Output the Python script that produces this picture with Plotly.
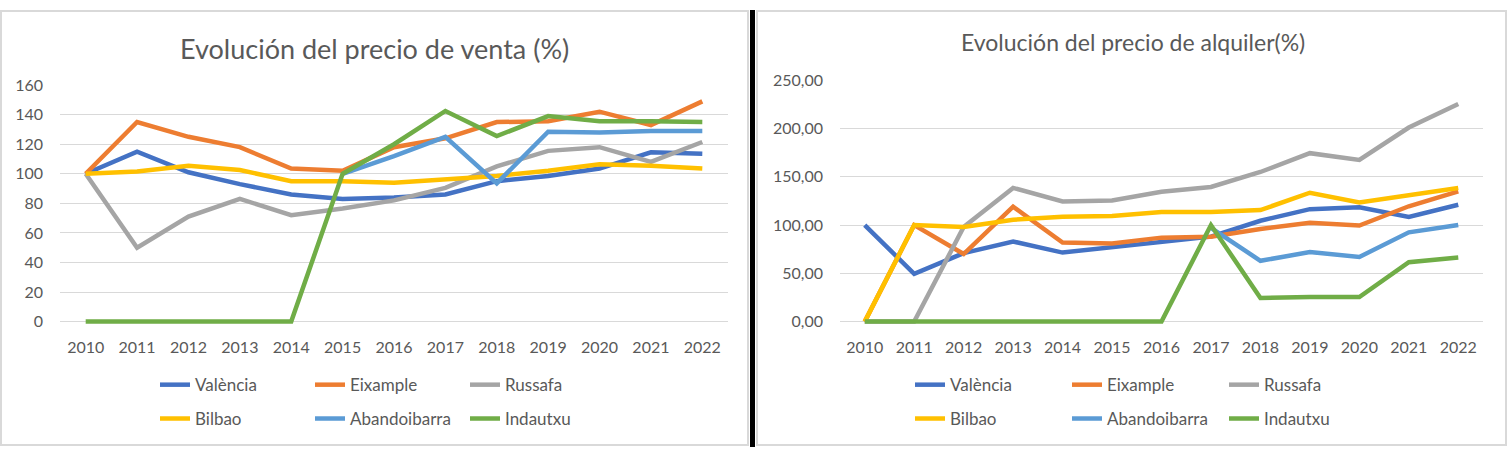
import plotly.graph_objs as go

# datos
years = ['2010', '2011', '2012', '2013', '2014', '2015', '2016',
         '2017', '2018', '2019', '2020', '2021', '2022']
zonas = ['València', 'Eixample', 'Russafa', 'Bilbao', 'Abandoibarra', 'Indautxu']
colores = ['#4472C4', '#ED7D31', '#A5A5A5', '#FFC000', '#5B9BD5', '#70AD47']

# evolucion precio de venta (%)
venta_valencia = [100, 115, 101, 93, 86, 83, 84, 86, 95, 98.5, 103.5, 114.5, 113.5]
venta_eixample = [100, 135, 125, 118, 103.5, 102, 118, 124, 135, 135.5, 142, 133, 149]
venta_russafa = [100, 50, 71, 83, 72, 76.5, 82, 90.5, 105, 115.5, 118, 108, 121.5]
venta_bilbao = [100, 101.5, 105.5, 102.5, 95, 95, 94, 96, 98.5, 102, 106.5, 105.5, 103.5]
venta_abandoibarra = [None, None, None, None, None, 100, 112, 125, 93.5, 128.5, 128, 129, 129]
venta_indautxu = [0, 0, 0, 0, 0, 100, 120, 142.5, 125.5, 139, 135.5, 135.5, 135]

# evolucion precio de alquiler (%)
alq_valencia = [100, 49.5, 71, 83, 71.5, 77, 81.5, 88, 104.5, 116.5, 118.5, 108.5, 121]
alq_eixample = [0, 100, 70, 119, 82, 81, 87, 88, 96, 102.5, 99.5, 119.5, 135]
alq_russafa = [0, 0, 98, 138.5, 124.5, 125.5, 134.5, 139.5, 155, 174.5, 167.5, 201, 225.5]
alq_bilbao = [0, 100, 98, 105.5, 108.5, 109.5, 113.5, 113.5, 115.5, 133.5, 123.5, 131.5, 138.5]
alq_abandoibarra = [None, None, None, None, None, None, None, 97, 63, 72, 67, 92.5, 100]
alq_indautxu = [0, 0, 0, 0, 0, 0, 0, 100, 24.5, 25.5, 25.5, 61.5, 66.5]

venta = [venta_valencia, venta_eixample, venta_russafa,
         venta_bilbao, venta_abandoibarra, venta_indautxu]
alquiler = [alq_valencia, alq_eixample, alq_russafa,
            alq_bilbao, alq_abandoibarra, alq_indautxu]

W, H = 1508, 452
FONT = 'Lato'
GRIS_TXT = '#595959'
GRID = '#d9d9d9'


def px_x(p):
    return p / W


def px_y(p):
    return 1 - p / H


fig = go.Figure()

for i, nombre in enumerate(zonas):
    fig.add_trace(go.Scatter(x=years, y=venta[i], name=nombre, mode='lines',
                             line=dict(color=colores[i], width=4.5),
                             xaxis='x', yaxis='y',
                             legend='legend' if i < 3 else 'legend2'))

for i, nombre in enumerate(zonas):
    fig.add_trace(go.Scatter(x=years, y=alquiler[i], name=nombre, mode='lines',
                             line=dict(color=colores[i], width=4.5),
                             xaxis='x2', yaxis='y2',
                             legend='legend3' if i < 3 else 'legend4'))

eje_x = dict(type='category', range=[-0.5, 12.5], showgrid=False, zeroline=False,
             showline=False, ticks='', ticklabelstandoff=11,
             tickfont=dict(family=FONT, size=16, color=GRIS_TXT), fixedrange=True)
eje_y = dict(showgrid=True, gridcolor=GRID, gridwidth=1.3, zeroline=False,
             showline=False, ticks='', ticklabelstandoff=16,
             tickfont=dict(family=FONT, size=16, color=GRIS_TXT), fixedrange=True)


def leyenda(x, y, ancho):
    return dict(orientation='h', x=px_x(x), y=px_y(y), xanchor='left', yanchor='middle',
                entrywidth=ancho, entrywidthmode='pixels', bgcolor='rgba(0,0,0,0)',
                font=dict(family=FONT, size=17, color=GRIS_TXT), itemclick=False)


fig.update_layout(
    width=W, height=H, autosize=False,
    margin=dict(l=0, r=0, t=0, b=0),
    paper_bgcolor='white', plot_bgcolor='white',
    separators=',.',
    xaxis=dict(eje_x, domain=[px_x(60), px_x(728)], anchor='y'),
    yaxis=dict(eje_y, domain=[px_y(326.1), px_y(76.9)], range=[-2.5, 160.5],
               dtick=20, anchor='x'),
    xaxis2=dict(eje_x, domain=[px_x(840), px_x(1483)], anchor='y2'),
    yaxis2=dict(eje_y, domain=[px_y(326.3), px_y(71.7)], range=[-4, 251],
                dtick=50, tickformat='.2f', anchor='x2'),
    legend=leyenda(155, 388, 110),
    legend2=leyenda(155, 423, 110),
    legend3=leyenda(910, 388, 112),
    legend4=leyenda(910, 423, 112),
    annotations=[
        dict(text='Evolución del precio de venta (%)', x=px_x(374), y=px_y(40),
             xref='paper', yref='paper', xanchor='center', yanchor='middle',
             showarrow=False, font=dict(family=FONT, size=27, color=GRIS_TXT)),
        dict(text='Evolución del precio de alquiler(%)', x=px_x(1133), y=px_y(33),
             xref='paper', yref='paper', xanchor='center', yanchor='middle',
             showarrow=False, font=dict(family=FONT, size=23, color=GRIS_TXT)),
    ],
    shapes=[
        # marcos de los dos graficos y separador negro
        dict(type='rect', xref='paper', yref='paper', x0=px_x(1), x1=px_x(748),
             y0=px_y(450), y1=px_y(1), line=dict(color=GRID, width=2)),
        dict(type='rect', xref='paper', yref='paper', x0=px_x(750), x1=px_x(755),
             y0=0, y1=1, fillcolor='black', line=dict(width=0)),
        dict(type='rect', xref='paper', yref='paper', x0=px_x(757), x1=px_x(1506),
             y0=px_y(450), y1=px_y(1), line=dict(color=GRID, width=2)),
    ],
)

# sin el margen por defecto del body para que cuadre con la ventana
fig.write_html('out.html', config={'displayModeBar': False},
               post_script="document.body.style.margin='0';")
